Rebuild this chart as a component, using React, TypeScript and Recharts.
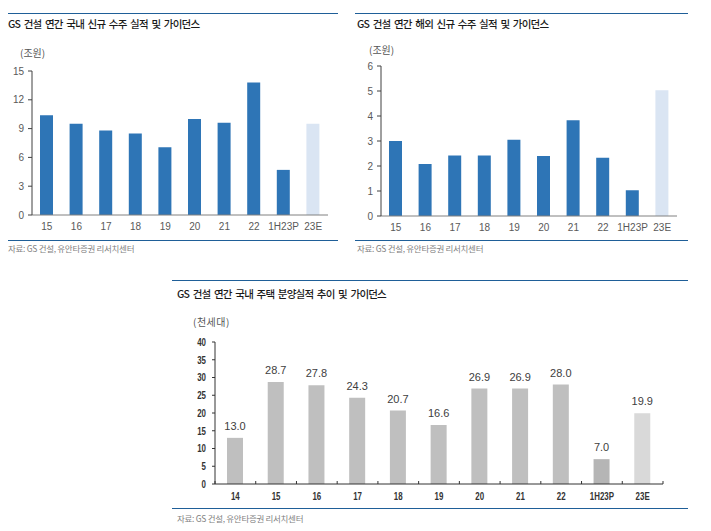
import { Bar, BarChart, Cell, LabelList, XAxis, YAxis } from "recharts";

// 국내 신규 수주 (조원)
const domesticCats = ["15", "16", "17", "18", "19", "20", "21", "22", "1H23P", "23E"];
const domesticOrders = [10.4, 9.5, 8.8, 8.5, 7.05, 10.0, 9.6, 13.8, 4.7, 9.5];
const domesticTicks = [0, 3, 6, 9, 12, 15];

// 해외 신규 수주 (조원)
const overseasCats = ["15", "16", "17", "18", "19", "20", "21", "22", "1H23P", "23E"];
const overseasOrders = [3.0, 2.08, 2.42, 2.42, 3.05, 2.4, 3.83, 2.33, 1.03, 5.03];
const overseasTicks = [0, 1, 2, 3, 4, 5, 6];

// 국내 주택 분양 (천세대)
const housingCats = ["14", "15", "16", "17", "18", "19", "20", "21", "22", "1H23P", "23E"];
const housingUnits = [13.0, 28.7, 27.8, 24.3, 20.7, 16.6, 26.9, 26.9, 28.0, 7.0, 19.9];
const housingTicks = [0, 5, 10, 15, 20, 25, 30, 35, 40];

const SOURCE = "자료: GS 건설, 유안타증권 리서치센터";
const KR_FONT = "'Noto Sans CJK KR', 'Noto Sans', sans-serif";
const NUM_FONT = "'Liberation Sans', Arial, sans-serif";
const RULE = "#1f5f98";

const BLUE = "#2e75b6";
const BLUE_LIGHT = "#dae5f3";

const abs = (left: number, top: number): React.CSSProperties => ({
  position: "absolute",
  left,
  top,
});

const Rule = ({ x, y, w }: { x: number; y: number; w: number }) => (
  <div style={{ ...abs(x, y), width: w, height: 0, borderTop: `1.5px solid ${RULE}` }} />
);

const Text = ({ x, y, size, color, weight, spacing, wordSpacing, children }: any) => (
  <div
    style={{
      ...abs(x, y),
      fontFamily: KR_FONT,
      fontSize: size,
      color,
      fontWeight: weight ?? 400,
      letterSpacing: spacing ?? 0,
      wordSpacing: wordSpacing ?? 0,
      whiteSpace: "nowrap",
      lineHeight: 1,
    }}
  >
    {children}
  </div>
);

const Title = ({ x, y, children }: any) => (
  <Text x={x} y={y} size={10.5} color="#1a1a1a" weight={500} spacing={-0.8} wordSpacing={2}>
    {children}
  </Text>
);

// 주택 차트 x축: 구간 경계 눈금
const HOUSING_BAND = 448 / housingCats.length;
const HOUSING_AXIS_Y = 152;
const NARROW = 0.72;

const HousingTick = ({ x, y, payload, index }: any) => (
  <g>
    <line
      x1={x + HOUSING_BAND / 2}
      x2={x + HOUSING_BAND / 2}
      y1={HOUSING_AXIS_Y}
      y2={HOUSING_AXIS_Y - 3}
      stroke="#333"
    />
    {index === 0 && (
      <line
        x1={x - HOUSING_BAND / 2}
        x2={x - HOUSING_BAND / 2}
        y1={HOUSING_AXIS_Y}
        y2={HOUSING_AXIS_Y - 3}
        stroke="#333"
      />
    )}
    <text
      x={x}
      y={y + 8}
      textAnchor="middle"
      fontFamily={NUM_FONT}
      fontSize={11}
      fontWeight="bold"
      fill="#333"
      transform={`translate(${x * (1 - NARROW)}, 0) scale(${NARROW}, 1)`}
    >
      {payload.value}
    </text>
  </g>
);

const HousingYTick = ({ x, y, payload }: any) => (
  <text
    x={x}
    y={y + 4}
    textAnchor="end"
    fontFamily={NUM_FONT}
    fontSize={11}
    fontWeight="bold"
    fill="#333"
    transform={`translate(${x * (1 - NARROW)}, 0) scale(${NARROW}, 1)`}
  >
    {payload.value}
  </text>
);

const OrdersChart = ({ cats, values, ticks, max, height }: any) => {
  const data = cats.map((c: string, i: number) => ({ cat: c, value: values[i] }));
  return (
    <BarChart
      width={340}
      height={height}
      data={data}
      margin={{ top: 11, right: 12, bottom: 0, left: 0 }}
      barSize={13}
    >
      <XAxis
        dataKey="cat"
        interval={0}
        tickLine={false}
        axisLine={{ stroke: "#808080" }}
        height={20}
        tickMargin={2}
        tick={{ fontFamily: NUM_FONT, fontSize: 10, fill: "#595959" }}
      />
      <YAxis
        type="number"
        domain={[0, max]}
        ticks={ticks}
        interval={0}
        width={32}
        tickSize={4}
        tickMargin={4}
        axisLine={{ stroke: "#404040" }}
        tickLine={{ stroke: "#404040" }}
        tick={{ fontFamily: NUM_FONT, fontSize: 10, fill: "#595959" }}
      />
      <Bar dataKey="value" isAnimationActive={false}>
        {data.map((d: any) => (
          <Cell key={d.cat} fill={d.cat === "23E" ? BLUE_LIGHT : BLUE} />
        ))}
      </Bar>
    </BarChart>
  );
};

const HousingChart = () => {
  const data = housingCats.map((c, i) => ({ cat: c, value: housingUnits[i] }));
  return (
    <BarChart
      width={490}
      height={174}
      data={data}
      margin={{ top: 10, right: 10, bottom: 0, left: 0 }}
      barSize={16}
    >
      <XAxis
        dataKey="cat"
        interval={0}
        tickLine={false}
        axisLine={{ stroke: "#333" }}
        height={22}
        tick={<HousingTick />}
      />
      <YAxis
        type="number"
        domain={[0, 40]}
        ticks={housingTicks}
        interval={0}
        width={32}
        tickSize={3}
        tickMargin={6}
        axisLine={{ stroke: "#333" }}
        tickLine={{ stroke: "#333" }}
        tick={<HousingYTick />}
      />
      <Bar dataKey="value" isAnimationActive={false}>
        {data.map((d) => (
          <Cell
            key={d.cat}
            fill={d.cat === "23E" ? "#d9d9d9" : d.cat === "1H23P" ? "#b5b5b5" : "#bfbfbf"}
          />
        ))}
        <LabelList
          dataKey="value"
          position="top"
          offset={8}
          formatter={(v: any) => Number(v).toFixed(1)}
          style={{ fontFamily: NUM_FONT, fontSize: 11, fill: "#404040" }}
        />
      </Bar>
    </BarChart>
  );
};

export default function App() {
  return (
    <div
      style={{
        position: "absolute",
        left: 0,
        top: 0,
        width: 711,
        height: 531,
        background: "#fff",
        overflow: "hidden",
      }}
    >
      {/* 국내 신규 수주 */}
      <Rule x={8} y={13} w={330} />
      <Title x={8} y={19}>GS 건설 연간 국내 신규 수주 실적 및 가이던스</Title>
      <Text x={20} y={48} size={10} color="#555">
        (조원)
      </Text>
      <div style={abs(0, 60)}>
        <OrdersChart
          cats={domesticCats}
          values={domesticOrders}
          ticks={domesticTicks}
          max={15}
          height={175}
        />
      </div>
      <Rule x={8} y={240} w={330} />
      <Text x={8} y={244} size={8.5} color="#7f7f7f" spacing={-0.3}>
        {SOURCE}
      </Text>

      {/* 해외 신규 수주 */}
      <Rule x={355} y={13} w={333} />
      <Title x={357} y={19}>GS 건설 연간 해외 신규 수주 실적 및 가이던스</Title>
      <Text x={369} y={45} size={10} color="#555">
        (조원)
      </Text>
      <div style={abs(349, 55)}>
        <OrdersChart
          cats={overseasCats}
          values={overseasOrders}
          ticks={overseasTicks}
          max={6}
          height={181}
        />
      </div>
      <Rule x={355} y={240} w={333} />
      <Text x={357} y={244} size={8.5} color="#7f7f7f" spacing={-0.3}>
        {SOURCE}
      </Text>

      {/* 국내 주택 분양 */}
      <Rule x={172} y={280} w={516} />
      <Title x={177} y={289}>GS 건설 연간 국내 주택 분양실적 추이 및 가이던스</Title>
      <Text x={193} y={317} size={10} color="#555" spacing={0.5}>
        (천세대)
      </Text>
      <div style={abs(183, 332)}>
        <HousingChart />
      </div>
      <Rule x={172} y={508} w={516} />
      <Text x={177} y={514} size={8.5} color="#7f7f7f" spacing={-0.3}>
        {SOURCE}
      </Text>
    </div>
  );
}
